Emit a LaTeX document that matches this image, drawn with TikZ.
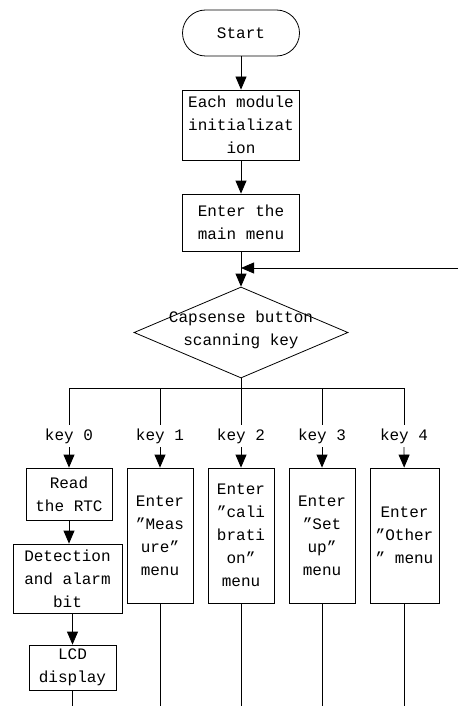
\documentclass[tikz,border=0pt]{standalone}
\usepackage{fontspec}
\setmainfont{Liberation Mono}
\usetikzlibrary{shapes.geometric,arrows.meta}

\begin{document}
\begin{tikzpicture}[x=1pt,y=-1pt,line width=0.8pt]
                \useasboundingbox (0,0) rectangle (458,706);
                \begin{scope}[every node/.style={draw,align=center,inner sep=0pt,font=\fontsize{16}{23}\selectfont}]
                        \node[rounded corners=23pt,minimum width=117pt,minimum height=46pt] (St) at (241,33) {Start};
                        \node[minimum width=117pt,minimum height=70pt] (Init) at (241,125) {Each module\\initializat\\ion};
                        \node[minimum width=117pt,minimum height=57pt] (Menu) at (241,222.5) {Enter the\\main menu};
                        \node[diamond,minimum width=214pt,minimum height=91pt] (Scan) at (241,332.5) {};
                        \node[minimum width=86pt,minimum height=52pt] (Rtc) at (69,494) {Read\\the RTC};
                        \node[minimum width=109pt,minimum height=69pt] (Det) at (67.5,578.5) {Detection\\and alarm\\bit};
                        \node[minimum width=87pt,minimum height=45pt] (Lcd) at (72.5,667.5) {LCD\\display};
                        \node[minimum width=66pt,minimum height=135pt] (M1) at (160,535.5) {Enter\\”Meas\\ure”\\menu};
                        \node[minimum width=66pt,minimum height=135pt] (M2) at (241,535.5) {Enter\\”cali\\brati\\on”\\menu};
                        \node[minimum width=66pt,minimum height=135pt] (M3) at (322,535.5) {Enter\\”Set\\up”\\menu};
                        \node[minimum width=69pt,minimum height=135pt] (M4) at (404.5,535.5) {Enter\\”Other\\” menu};
                \end{scope}
                \begin{scope}[every node/.style={align=center,font=\fontsize{16}{23}\selectfont}]
                        \node (ScanTxt) at (241,330) {Capsense button\\scanning key};
                        \node (K0) at (69,436) {key 0};
                        \node (K1) at (160,436) {key 1};
                        \node (K2) at (241,436) {key 2};
                        \node (K3) at (322,436) {key 3};
                        \node (K4) at (404,436) {key 4};
                \end{scope}
                \coordinate (Fb) at (458,268);
                \coordinate (Bus) at (241,388);
                \coordinate (Bot) at (0,706);
                \begin{scope}[every path/.style={->,>={Triangle[width=11pt,length=13pt]}}]
                        \path (St) edge (Init);
                        \path (Init) edge (Menu);
                        \path (Menu) edge (Scan);
                        \path (Fb) edge (Fb -| Scan);
                        \path (K0) edge (Rtc);
                        \path (Rtc) edge (Rtc |- Det.north);
                        \path (Det.south -| Lcd) edge (Lcd);
                        \path (K1) edge (M1);
                        \path (K2) edge (M2);
                        \path (K3) edge (M3);
                        \path (K4) edge (M4);
                \end{scope}
                \draw (Scan.south) -- (Bus);
                \draw (K0 |- Bus) -- (K4 |- Bus);
                \foreach \k in {K0,K1,K2,K3,K4}
                        \draw (\k) -- (\k |- Bus);
                \foreach \m in {Lcd,M1,M2,M3,M4}
                        \draw (\m) -- (\m |- Bot);
        \end{tikzpicture}
\end{document}
